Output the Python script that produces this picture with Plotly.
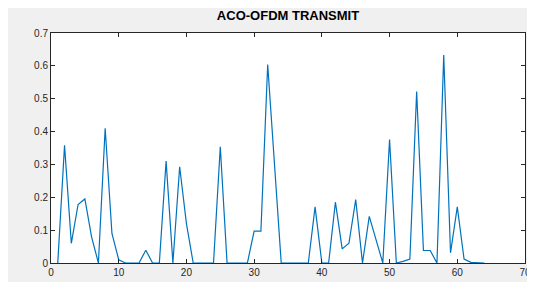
import plotly.graph_objects as go

sample_index = list(range(1, 65))
amplitude = [
    0.0, 0.358, 0.06, 0.178, 0.195, 0.079, 0.0, 0.41, 0.09, 0.01,
    0.0, 0.0, 0.0, 0.039, 0.0, 0.0, 0.31, 0.0, 0.293, 0.12,
    0.0, 0.0, 0.0, 0.0, 0.354, 0.0, 0.0, 0.0, 0.0, 0.097,
    0.097, 0.604, 0.3, 0.0, 0.0, 0.0, 0.0, 0.0, 0.171, 0.0,
    0.0, 0.185, 0.043, 0.06, 0.193, 0.0, 0.142, 0.07, 0.0, 0.376,
    0.0, 0.005, 0.012, 0.522, 0.038, 0.038, 0.0, 0.633, 0.031, 0.171,
    0.012, 0.002, 0.0, 0.0,
]
x_ticks = [0, 10, 20, 30, 40, 50, 60, 70]
y_ticks = [0, 0.1, 0.2, 0.3, 0.4, 0.5, 0.6, 0.7]
y_tick_labels = ["0", "0.1", "0.2", "0.3", "0.4", "0.5", "0.6", "0.7"]
title_text = "ACO-OFDM TRANSMIT"

fig = go.Figure(
    go.Scatter(
        x=sample_index,
        y=amplitude,
        mode="lines",
        line=dict(color="#0072BD", width=1.2),
        showlegend=False,
    )
)

axis_common = dict(
    showline=True,
    linecolor="#262626",
    linewidth=1,
    mirror="ticks",
    ticks="inside",
    ticklen=4,
    tickcolor="#262626",
    showgrid=False,
    zeroline=False,
    ticklabeloverflow="allow",
    tickfont=dict(family="Liberation Sans, Arial, sans-serif", size=10, color="#262626"),
)

fig.update_xaxes(range=[0, 70], tickvals=x_ticks, **axis_common)
fig.update_yaxes(range=[0, 0.7], tickvals=y_ticks, ticktext=y_tick_labels, **axis_common)

fig.update_layout(
    width=535,
    height=282,
    margin=dict(l=43, r=13, t=25, b=12),
    paper_bgcolor="#f0f0f0",
    plot_bgcolor="#ffffff",
    title=dict(
        text="<b>" + title_text + "</b>",
        x=0.5,
        xref="paper",
        y=1,
        yref="container",
        yanchor="top",
        pad=dict(t=3),
        font=dict(family="Liberation Sans, Arial, sans-serif", size=13, color="#000000"),
    ),
)

fig.write_html("out.html")
